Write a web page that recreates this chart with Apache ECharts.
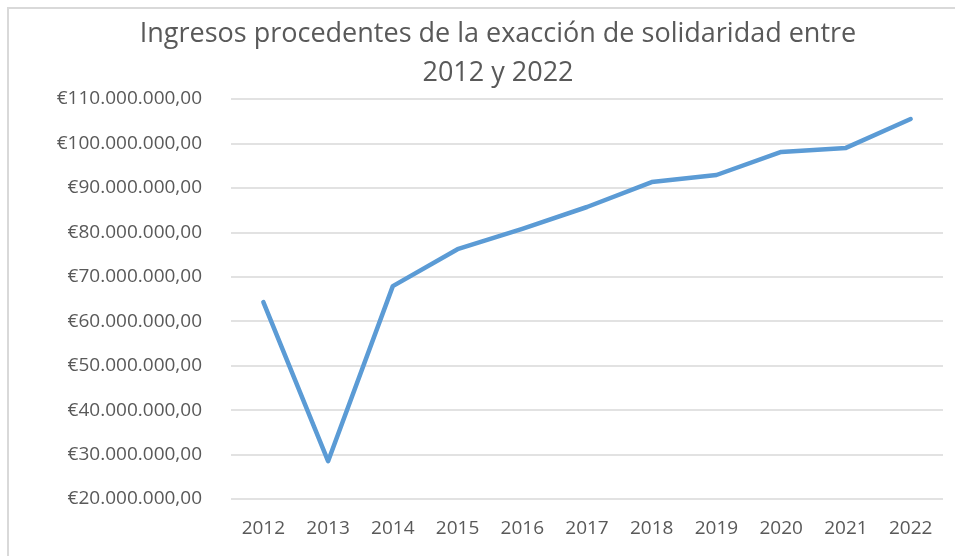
<!DOCTYPE html>
<html>
<head>
<meta charset="utf-8">
<script src="https://cdn.jsdelivr.net/npm/echarts@6/dist/echarts.min.js"></script>
<style>
  html, body { margin: 0; padding: 0; background: #fff; overflow: hidden; }
  #frame {
    position: absolute;
    left: 7px;
    top: 7px;
    width: 960px;
    height: 560px;
    border: 2px solid #d9d9d9;
    box-sizing: border-box;
  }
  #chart {
    position: absolute;
    left: 0;
    top: 0;
    width: 955px;
    height: 556px;
  }
</style>
</head>
<body>
<div id="frame"></div>
<div id="chart"></div>
<script>
const titleText = 'Ingresos procedentes de la exacción de solidaridad entre\n2012 y 2022'
const years = ['2012', '2013', '2014', '2015', '2016', '2017', '2018', '2019', '2020', '2021', '2022']
const ingresos = [64300000, 28500000, 67900000, 76200000, 80800000, 85700000, 91300000, 92900000, 98100000, 99000000, 105500000]
const yMin = 20000000
const yMax = 110000000
const yStep = 10000000

function euro(v) {
  // formato español: €110.000.000,00
  const s = Math.round(v).toString().replace(/\B(?=(\d{3})+(?!\d))/g, '.')
  return '€' + s + ',00'
}

const myChart = echarts.init(document.getElementById('chart'))
myChart.setOption({
  animation: false,
  textStyle: { fontFamily: 'Open Sans' },
  title: {
    text: titleText,
    left: 493,
    textAlign: 'center',
    top: 10,
    textStyle: {
      fontFamily: 'Open Sans',
      fontWeight: 'normal',
      fontSize: 27,
      color: '#595959',
      lineHeight: 39
    }
  },
  grid: {
    left: 231,
    right: 12,
    top: 99,
    bottom: 57
  },
  xAxis: {
    type: 'category',
    data: years,
    boundaryGap: true,
    axisLine: { show: false },
    axisTick: { show: false },
    axisLabel: {
      color: '#595959',
      fontSize: 19,
      margin: 20
    }
  },
  yAxis: {
    type: 'value',
    min: yMin,
    max: yMax,
    interval: yStep,
    axisLine: { show: false },
    axisTick: { show: false },
    splitLine: { lineStyle: { color: '#d9d9d9', width: 1.5 } },
    axisLabel: {
      color: '#595959',
      fontSize: 19,
      margin: 29,
      formatter: euro
    }
  },
  series: [
    {
      type: 'line',
      data: ingresos,
      symbol: 'none',
      lineStyle: { color: '#5b9bd5', width: 4.5, cap: 'round', join: 'round' }
    }
  ]
})
</script>
</body>
</html>
